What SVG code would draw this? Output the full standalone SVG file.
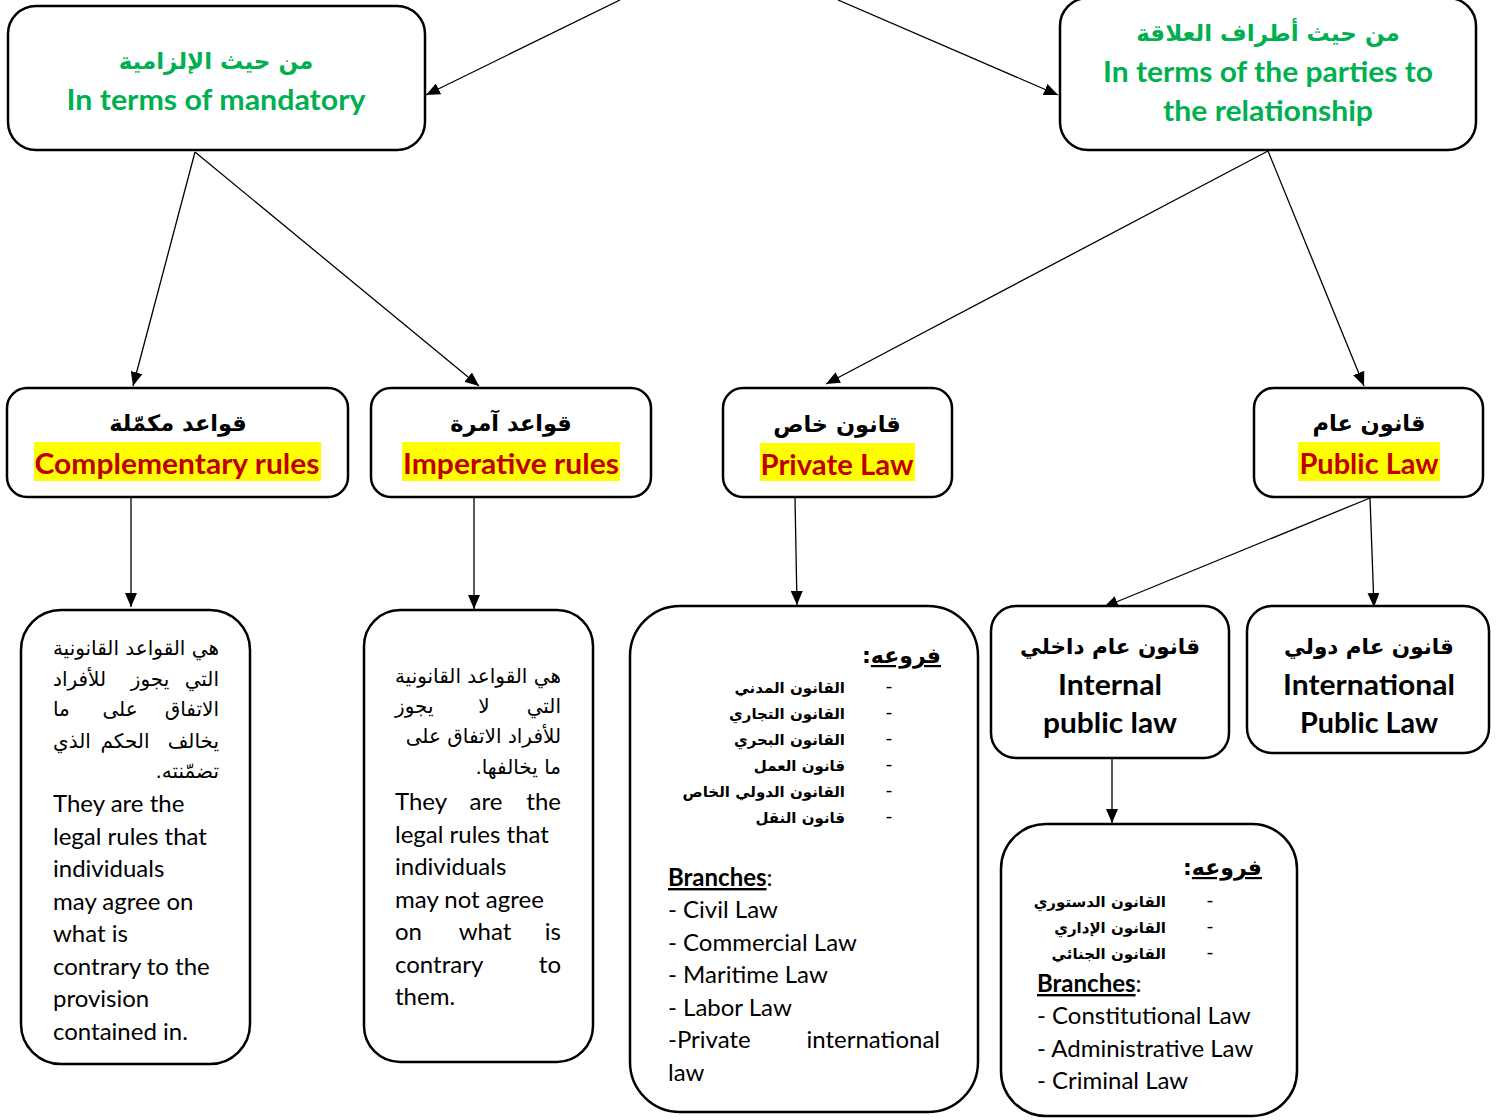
<svg xmlns="http://www.w3.org/2000/svg" width="1507" height="1120" viewBox="0 0 1507 1120">
<style>
.box{fill:#fff;stroke:#000;stroke-width:2.5}
.con{stroke:#000;stroke-width:1.3;fill:none}
.green{font-family:Lato,"DejaVu Sans",sans-serif;font-weight:bold;font-size:28px;fill:#00B050}
.ar-green{font-family:"DejaVu Sans",sans-serif;font-weight:bold;font-size:23px;fill:#00B050}
.ar-h{font-family:"DejaVu Sans",sans-serif;font-weight:bold;font-size:22.5px;fill:#000}
.ar-h2{font-family:"DejaVu Sans",sans-serif;font-weight:bold;font-size:21.5px;fill:#000}
.red{font-family:Lato,sans-serif;font-weight:bold;font-size:28px;fill:#C00000}
.hl{fill:#FFFF00}
.blk{font-family:Lato,sans-serif;font-weight:bold;font-size:28px;fill:#000}
.body{font-family:Lato,sans-serif;font-size:24px;fill:#000}
.ar-body{font-family:"DejaVu Sans",sans-serif;font-size:20px;fill:#000}
.ar-list{font-family:"DejaVu Sans",sans-serif;font-weight:bold;font-size:15px;fill:#000}
.ar-fr{font-family:"DejaVu Sans",sans-serif;font-weight:bold;font-size:22px;fill:#000}
.dash{font-family:Lato,sans-serif;font-size:20px;fill:#000}
</style>
<defs>
<marker id="ah" viewBox="0 0 14 12" refX="14" refY="6" markerWidth="14" markerHeight="12" markerUnits="userSpaceOnUse" orient="auto">
<path d="M0,0 L14,6 L0,12 Z" fill="#000"/>
</marker>
</defs>

<g id="connectors">
<line class="con" x1="620" y1="0" x2="426" y2="95" marker-end="url(#ah)"/>
<line class="con" x1="838" y1="0" x2="1058" y2="95" marker-end="url(#ah)"/>
<line class="con" x1="195" y1="152" x2="133" y2="386" marker-end="url(#ah)"/>
<line class="con" x1="195" y1="152" x2="479" y2="386" marker-end="url(#ah)"/>
<line class="con" x1="1268" y1="151" x2="826" y2="384" marker-end="url(#ah)"/>
<line class="con" x1="1268" y1="151" x2="1364" y2="386" marker-end="url(#ah)"/>
<line class="con" x1="131" y1="498" x2="131" y2="607" marker-end="url(#ah)"/>
<line class="con" x1="474" y1="498" x2="474" y2="609" marker-end="url(#ah)"/>
<line class="con" x1="795" y1="498" x2="797" y2="605" marker-end="url(#ah)"/>
<line class="con" x1="1370" y1="498" x2="1104" y2="607" marker-end="url(#ah)"/>
<line class="con" x1="1370" y1="498" x2="1374" y2="607" marker-end="url(#ah)"/>
<line class="con" x1="1112" y1="759" x2="1112" y2="823" marker-end="url(#ah)"/>
</g>

<g id="node-mandatory">
<rect class="box" x="8" y="6" width="417" height="144" rx="28"/>
<text class="ar-green" x="216" y="69" text-anchor="middle" direction="rtl">من حيث الإلزامية</text>
<text class="green" x="216" y="110" text-anchor="middle" textLength="299" lengthAdjust="spacingAndGlyphs">In terms of mandatory</text>
</g>

<g id="node-parties">
<rect class="box" x="1060" y="-2" width="416" height="152" rx="28"/>
<text class="ar-green" x="1268" y="41" text-anchor="middle" direction="rtl">من حيث أطراف العلاقة</text>
<text class="green" x="1268" y="82" text-anchor="middle" textLength="330" lengthAdjust="spacingAndGlyphs">In terms of the parties to</text>
<text class="green" x="1268" y="121" text-anchor="middle" textLength="210" lengthAdjust="spacingAndGlyphs">the relationship</text>
</g>

<g id="node-complementary">
<rect class="box" x="7" y="388" width="341" height="109" rx="20"/>
<text class="ar-h" x="178" y="431" text-anchor="middle" direction="rtl">قواعد مكمّلة</text>
<rect class="hl" x="34" y="442" width="287" height="39"/>
<text class="red" x="177" y="474" text-anchor="middle" textLength="285" lengthAdjust="spacingAndGlyphs">Complementary rules</text>
</g>

<g id="node-imperative">
<rect class="box" x="371" y="388" width="280" height="109" rx="20"/>
<text class="ar-h" x="511" y="431" text-anchor="middle" direction="rtl">قواعد آمرة</text>
<rect class="hl" x="402" y="442" width="218" height="39"/>
<text class="red" x="511" y="474" text-anchor="middle" textLength="216" lengthAdjust="spacingAndGlyphs">Imperative rules</text>
</g>

<g id="node-private">
<rect class="box" x="723" y="388" width="229" height="109" rx="20"/>
<text class="ar-h" x="837" y="432" text-anchor="middle" direction="rtl">قانون خاص</text>
<rect class="hl" x="760" y="443" width="155" height="38"/>
<text class="red" x="837" y="475" text-anchor="middle" textLength="153" lengthAdjust="spacingAndGlyphs">Private Law</text>
</g>

<g id="node-public">
<rect class="box" x="1254" y="388" width="229" height="109" rx="20"/>
<text class="ar-h" x="1369" y="431" text-anchor="middle" direction="rtl">قانون عام</text>
<rect class="hl" x="1298" y="442" width="142" height="39"/>
<text class="red" x="1369" y="474" text-anchor="middle" textLength="139" lengthAdjust="spacingAndGlyphs">Public Law</text>
</g>

<g id="node-complementary-desc">
<rect class="box" x="21" y="610" width="229" height="454" rx="40"/>
<text class="ar-body" x="219" y="655" direction="rtl">هي القواعد القانونية</text>
<text class="ar-body" x="219" y="686" direction="rtl">التي</text>
<text class="ar-body" x="150" y="686" direction="rtl" text-anchor="middle">يجوز</text>
<text class="ar-body" x="53" y="686" direction="rtl" text-anchor="end">للأفراد</text>
<text class="ar-body" x="219" y="716" direction="rtl">الاتفاق</text>
<text class="ar-body" x="120" y="716" direction="rtl" text-anchor="middle">على</text>
<text class="ar-body" x="53" y="716" direction="rtl" text-anchor="end">ما</text>
<text class="ar-body" x="219" y="748" direction="rtl">يخالف</text>
<text class="ar-body" x="125" y="748" direction="rtl" text-anchor="middle">الحكم</text>
<text class="ar-body" x="53" y="748" direction="rtl" text-anchor="end">الذي</text>
<text class="ar-body" x="219" y="778" direction="rtl">تضمّنته.</text>
<text class="body" x="53" y="812">They are the</text>
<text class="body" x="53" y="845">legal rules that</text>
<text class="body" x="53" y="877">individuals</text>
<text class="body" x="53" y="910">may agree on</text>
<text class="body" x="53" y="942">what is</text>
<text class="body" x="53" y="975">contrary to the</text>
<text class="body" x="53" y="1007">provision</text>
<text class="body" x="53" y="1040">contained in.</text>
</g>

<g id="node-imperative-desc">
<rect class="box" x="364" y="610" width="229" height="452" rx="36"/>
<text class="ar-body" x="561" y="683" direction="rtl">هي القواعد القانونية</text>
<text class="ar-body" x="561" y="713" direction="rtl">التي</text>
<text class="ar-body" x="484" y="713" direction="rtl" text-anchor="middle">لا</text>
<text class="ar-body" x="395" y="713" direction="rtl" text-anchor="end">يجوز</text>
<text class="ar-body" x="561" y="743" direction="rtl">للأفراد الاتفاق على</text>
<text class="ar-body" x="561" y="774" direction="rtl">ما يخالفها.</text>
<text class="body" x="395" y="810">They</text>
<text class="body" x="486" y="810" text-anchor="middle">are</text>
<text class="body" x="561" y="810" text-anchor="end">the</text>
<text class="body" x="395" y="843">legal rules that</text>
<text class="body" x="395" y="875">individuals</text>
<text class="body" x="395" y="908">may not agree</text>
<text class="body" x="395" y="940">on</text>
<text class="body" x="485" y="940" text-anchor="middle">what</text>
<text class="body" x="561" y="940" text-anchor="end">is</text>
<text class="body" x="395" y="973">contrary</text>
<text class="body" x="561" y="973" text-anchor="end">to</text>
<text class="body" x="395" y="1005">them.</text>
</g>

<g id="node-private-branches">
<rect class="box" x="630" y="606" width="348" height="506" rx="50"/>
<text class="ar-fr" x="941" y="663" direction="rtl"><tspan text-decoration="underline">فروعه</tspan>:</text>
<text class="ar-list" x="845" y="693" direction="rtl">القانون المدني</text>
<text class="ar-list" x="845" y="719" direction="rtl">القانون التجاري</text>
<text class="ar-list" x="845" y="745" direction="rtl">القانون البحري</text>
<text class="ar-list" x="845" y="771" direction="rtl">قانون العمل</text>
<text class="ar-list" x="845" y="797" direction="rtl">القانون الدولي الخاص</text>
<text class="ar-list" x="845" y="823" direction="rtl">قانون النقل</text>
<text class="dash" x="889" y="693" text-anchor="middle">-</text>
<text class="dash" x="889" y="719" text-anchor="middle">-</text>
<text class="dash" x="889" y="745" text-anchor="middle">-</text>
<text class="dash" x="889" y="771" text-anchor="middle">-</text>
<text class="dash" x="889" y="797" text-anchor="middle">-</text>
<text class="dash" x="889" y="823" text-anchor="middle">-</text>
<text class="body" x="668" y="886"><tspan font-weight="bold" text-decoration="underline">Branches</tspan>:</text>
<text class="body" x="668" y="918">- Civil Law</text>
<text class="body" x="668" y="951">- Commercial Law</text>
<text class="body" x="668" y="983">- Maritime Law</text>
<text class="body" x="668" y="1016">- Labor Law</text>
<text class="body" x="668" y="1048">-Private</text>
<text class="body" x="940" y="1048" text-anchor="end">international</text>
<text class="body" x="668" y="1081">law</text>
</g>

<g id="node-internal">
<rect class="box" x="991" y="606" width="238" height="152" rx="25"/>
<text class="ar-h2" x="1110" y="654" text-anchor="middle" direction="rtl">قانون عام داخلي</text>
<text class="blk" x="1110" y="695" text-anchor="middle" textLength="104" lengthAdjust="spacingAndGlyphs">Internal</text>
<text class="blk" x="1110" y="733" text-anchor="middle" textLength="134" lengthAdjust="spacingAndGlyphs">public law</text>
</g>

<g id="node-international">
<rect class="box" x="1247" y="606" width="242" height="147" rx="25"/>
<text class="ar-h2" x="1369" y="654" text-anchor="middle" direction="rtl">قانون عام دولي</text>
<text class="blk" x="1369" y="695" text-anchor="middle" textLength="172" lengthAdjust="spacingAndGlyphs">International</text>
<text class="blk" x="1369" y="733" text-anchor="middle" textLength="138" lengthAdjust="spacingAndGlyphs">Public Law</text>
</g>

<g id="node-internal-branches">
<rect class="box" x="1001" y="824" width="296" height="292" rx="45"/>
<text class="ar-fr" x="1262" y="875" direction="rtl"><tspan text-decoration="underline">فروعه</tspan>:</text>
<text class="ar-list" x="1166" y="907" direction="rtl">القانون الدستوري</text>
<text class="ar-list" x="1166" y="933" direction="rtl">القانون الإداري</text>
<text class="ar-list" x="1166" y="959" direction="rtl">القانون الجنائي</text>
<text class="dash" x="1210" y="907" text-anchor="middle">-</text>
<text class="dash" x="1210" y="933" text-anchor="middle">-</text>
<text class="dash" x="1210" y="959" text-anchor="middle">-</text>
<text class="body" x="1037" y="992"><tspan font-weight="bold" text-decoration="underline">Branches</tspan>:</text>
<text class="body" x="1037" y="1024">- Constitutional Law</text>
<text class="body" x="1037" y="1057">- Administrative Law</text>
<text class="body" x="1037" y="1089">- Criminal Law</text>
</g>
</svg>
